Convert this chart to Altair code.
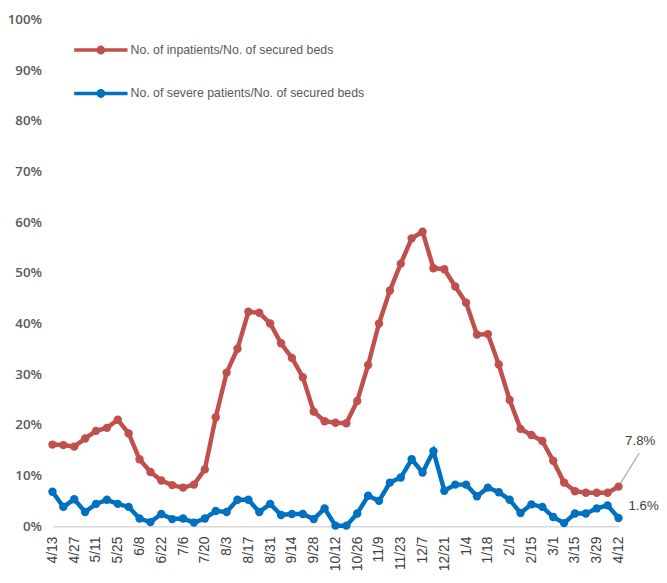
import altair as alt
import pandas as pd

dates = ["4/13", "4/20", "4/27", "5/4", "5/11", "5/18", "5/25", "6/1", "6/8", "6/15",
         "6/22", "6/29", "7/6", "7/13", "7/20", "7/27", "8/3", "8/10", "8/17", "8/24",
         "8/31", "9/7", "9/14", "9/21", "9/28", "10/5", "10/12", "10/19", "10/26", "11/2",
         "11/9", "11/16", "11/23", "11/30", "12/7", "12/14", "12/21", "12/28", "1/4", "1/11",
         "1/18", "1/25", "2/1", "2/8", "2/15", "2/22", "3/1", "3/8", "3/15", "3/22",
         "3/29", "4/5", "4/12"]

inpatients = [16.1, 16.0, 15.7, 17.3, 18.8, 19.4, 21.0, 18.3, 13.2, 10.7,
              9.0, 8.1, 7.6, 8.2, 11.2, 21.5, 30.3, 35.0, 42.3, 42.1,
              40.0, 36.1, 33.2, 29.4, 22.6, 20.7, 20.4, 20.3, 24.7, 31.8,
              40.0, 46.5, 51.8, 56.8, 58.1, 50.9, 50.7, 47.3, 44.1, 37.8,
              37.9, 31.9, 24.9, 19.2, 18.0, 16.8, 12.9, 8.6, 6.9, 6.6,
              6.6, 6.6, 7.8]

severe = [6.8, 3.8, 5.3, 2.8, 4.4, 5.2, 4.4, 3.8, 1.5, 0.8,
          2.4, 1.4, 1.5, 0.7, 1.5, 3.0, 2.8, 5.2, 5.2, 2.8,
          4.4, 2.2, 2.4, 2.4, 1.4, 3.5, 0.1, 0.1, 2.5, 6.0,
          5.0, 8.6, 9.6, 13.2, 10.6, 14.8, 7.0, 8.2, 8.2, 5.9,
          7.6, 6.7, 5.2, 2.6, 4.3, 3.8, 1.8, 0.6, 2.5, 2.5,
          3.5, 4.1, 1.6]

series_names = ["No. of inpatients/No. of secured beds",
                "No. of severe patients/No. of secured beds"]
colors = ["#C0504D", "#0070C0"]
y_ticks = [0, 10, 20, 30, 40, 50, 60, 70, 80, 90, 100]

rows = []
for i, d in enumerate(dates):
    rows.append(dict(idx=i, date=d, series=series_names[0], value=inpatients[i]))
    rows.append(dict(idx=i, date=d, series=series_names[1], value=severe[i]))
df = pd.DataFrame(rows)

last = len(dates) - 1
tick_idx = list(range(0, len(dates), 2))
label_js = "[" + ",".join("'" + d + "'" for d in dates) + "]"

x_scale = alt.Scale(domain=[0, last], nice=False, zero=False)
y_scale = alt.Scale(domain=[0, 100], nice=False)

x_axis = alt.Axis(values=tick_idx, labelExpr=label_js + "[datum.value]", labelAngle=-90,
                  title=None, grid=False, ticks=False, domainColor="#d9d9d9", domainWidth=1.5,
                  labelFont="Liberation Sans", labelFontSize=14, labelColor="#404040",
                  labelPadding=10, labelOverlap=False, labelFlush=False, labelBound=False)
y_axis = alt.Axis(values=y_ticks, labelExpr="datum.value + '%'", title=None, grid=False,
                  domain=False, ticks=False, labelPadding=11, labelFont="Open Sans",
                  labelFontWeight=600, labelFontSize=13.5, labelColor="#595959",
                  labelFlush=False, labelBound=False, labelOverlap=False)

X = alt.X("idx:Q", scale=x_scale, axis=x_axis)
Y = alt.Y("value:Q", scale=y_scale, axis=y_axis)

legend = alt.Legend(title=None, orient="none", legendX=20, legendY=2,
                    symbolType="M-1,0H1M-0.1,0A0.1,0.1,0,1,1,0.1,0A0.1,0.1,0,1,1,-0.1,0Z",
                    symbolSize=2916, symbolStrokeWidth=3.5, labelFont="Liberation Sans",
                    labelFontSize=12.5, labelColor="#595959", labelOffset=1,
                    rowPadding=5, labelLimit=400)

color = alt.Color("series:N", scale=alt.Scale(domain=series_names, range=colors), legend=legend)

lines = alt.Chart(df).mark_line(strokeWidth=4.5, point=alt.OverlayMarkDef(size=72, filled=True, opacity=1)).encode(
    x=X, y=Y, color=color, order="idx:Q",
)

last_df = df[df.idx == last].copy()
last_df["label"] = last_df["value"].map(lambda v: f"{v:.1f}%")
lead = last_df[last_df.series == series_names[0]].copy()
lead["x2"] = last + 1.9
lead["y2"] = lead["value"] + 6.6

leader = alt.Chart(lead).mark_rule(color="#a6a6a6", strokeWidth=1.2).encode(
    x=X, y=Y, x2="x2:Q", y2="y2:Q")

text_in = alt.Chart(last_df[last_df.series == series_names[0]]).mark_text(
    align="center", baseline="middle", dx=22, dy=-46, font="Liberation Sans",
    fontSize=13.5, color="#404040").encode(x=X, y=Y, text="label:N")

text_sev = alt.Chart(last_df[last_df.series == series_names[1]]).mark_text(
    align="left", baseline="middle", dx=10, dy=-12, font="Liberation Sans",
    fontSize=13.5, color="#404040").encode(x=X, y=Y, text="label:N")

chart = alt.layer(leader, lines, text_in, text_sev).properties(
    width=573, height=513,
    autosize=alt.AutoSizeParams(type="none"),
    padding={"left": 45, "top": 8, "right": 41, "bottom": 54},
).configure_view(stroke=None)

chart.save("out.html", embed_options={"renderer": "svg", "actions": False})
